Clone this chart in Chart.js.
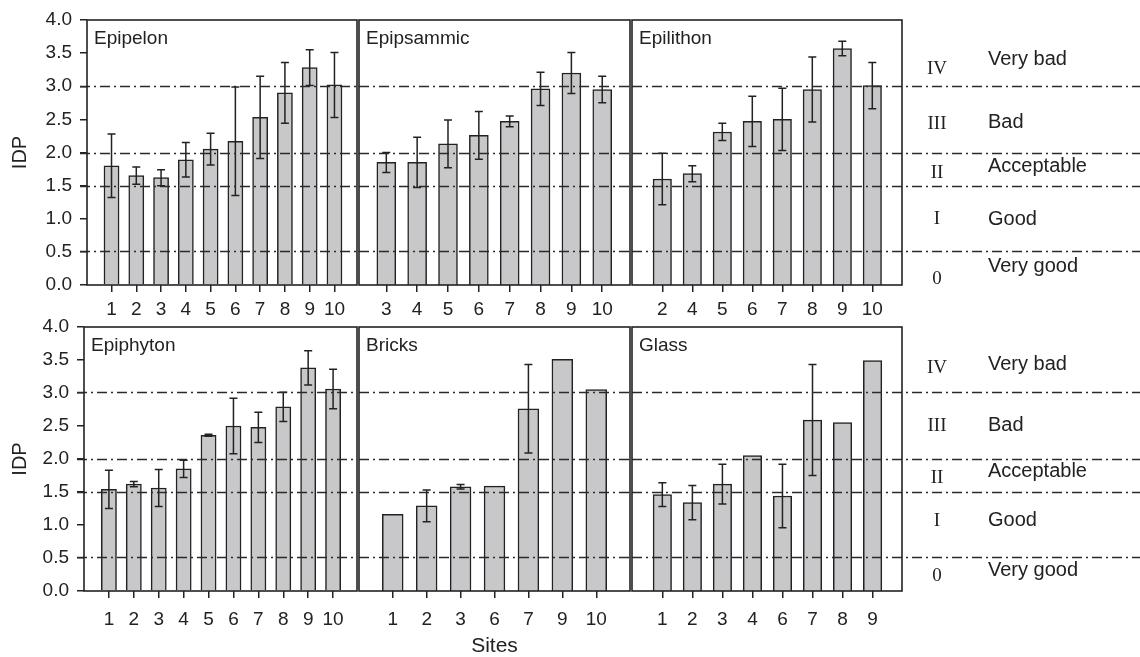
<!DOCTYPE html>
<html>
<head>
<meta charset="utf-8">
<script src="https://cdn.jsdelivr.net/npm/chart.js@4.4.1/dist/chart.umd.min.js"></script>
<style>
  html, body { margin: 0; padding: 0; background: #fff; overflow: hidden; }
  body { width: 1140px; height: 657px; position: relative; }
  canvas { position: absolute; }
</style>
</head>
<body>
<script>
// IDP per site and substrate, with +/- error
const epipelonSites = ['1', '2', '3', '4', '5', '6', '7', '8', '9', '10'];
const epipelonIdp = [1.80, 1.65, 1.62, 1.89, 2.05, 2.17, 2.53, 2.90, 3.28, 3.02];
const epipelonErr = [0.48, 0.13, 0.12, 0.26, 0.24, 0.82, 0.62, 0.46, 0.27, 0.49];

const epipsammicSites = ['3', '4', '5', '6', '7', '8', '9', '10'];
const epipsammicIdp = [1.85, 1.85, 2.13, 2.26, 2.47, 2.96, 3.20, 2.95];
const epipsammicErr = [0.15, 0.38, 0.36, 0.36, 0.08, 0.25, 0.31, 0.20];

const epilithonSites = ['2', '4', '5', '6', '7', '8', '9', '10'];
const epilithonIdp = [1.60, 1.68, 2.31, 2.47, 2.50, 2.95, 3.57, 3.01];
const epilithonErr = [0.39, 0.12, 0.13, 0.38, 0.47, 0.49, 0.11, 0.35];

const epiphytonSites = ['1', '2', '3', '4', '5', '6', '7', '8', '9', '10'];
const epiphytonIdp = [1.54, 1.62, 1.56, 1.85, 2.36, 2.50, 2.48, 2.79, 3.38, 3.06];
const epiphytonErr = [0.29, 0.04, 0.28, 0.13, 0.015, 0.42, 0.23, 0.22, 0.26, 0.30];

const bricksSites = ['1', '2', '3', '6', '7', '9', '10'];
const bricksIdp = [1.16, 1.29, 1.58, 1.59, 2.76, 3.51, 3.05];
const bricksErr = [0, 0.24, 0.035, 0, 0.67, 0, 0];

const glassSites = ['1', '2', '3', '4', '6', '7', '8', '9'];
const glassIdp = [1.46, 1.34, 1.62, 2.05, 1.44, 2.59, 2.55, 3.49];
const glassErr = [0.18, 0.26, 0.30, 0, 0.48, 0.84, 0, 0];

// quality class limits and labels
const classLimits = [0.52, 1.5, 2.0, 3.01];
const classRoman = ['IV', 'III', 'II', 'I', '0'];
const classNames = ['Very bad', 'Bad', 'Acceptable', 'Good', 'Very good'];

const INK = '#222';
const BAR_FILL = '#c8c8ca';
const SANS = '"Liberation Sans", Arial, sans-serif';
const SERIF = '"Liberation Serif", "Times New Roman", serif';

// label heights (in IDP units) for the class legend, per row
const legendTop = { roman: [3.28, 2.45, 1.70, 1.01, 0.10], names: [3.42, 2.47, 1.81, 1.01, 0.29] };
const legendBottom = { roman: [3.40, 2.51, 1.73, 1.07, 0.24], names: [3.44, 2.53, 1.82, 1.08, 0.32] };

const rowTop = { cy: 0, ch: 330, areaTop: 20, areaBottom: 285, tickPad: 6, legend: legendTop };
const rowBottom = { cy: 307, ch: 350, areaTop: 327, areaBottom: 591, tickPad: 10, legend: legendBottom };

const panelPlugin = {
  id: 'panel',
  afterDatasetsDraw(chart, args, p) {
    const ctx = chart.ctx;
    const a = chart.chartArea;
    const y = chart.scales.y;
    const meta = chart.getDatasetMeta(0);
    ctx.save();
    // error bars
    ctx.strokeStyle = INK;
    ctx.lineWidth = 1.5;
    meta.data.forEach((bar, i) => {
      const e = p.err[i];
      if (!e) return;
      const v = p.values[i];
      const y1 = y.getPixelForValue(v + e);
      const y2 = y.getPixelForValue(v - e);
      ctx.beginPath();
      ctx.moveTo(bar.x, y1); ctx.lineTo(bar.x, y2);
      ctx.moveTo(bar.x - 4, y1); ctx.lineTo(bar.x + 4, y1);
      ctx.moveTo(bar.x - 4, y2); ctx.lineTo(bar.x + 4, y2);
      ctx.stroke();
    });
    // class limit lines
    ctx.strokeStyle = '#2a2a2a';
    ctx.lineWidth = 1.4;
    ctx.setLineDash([10, 4, 2, 4]);
    const x0 = p.first ? a.left - 7 : a.left;
    const x1 = p.last ? chart.width : a.right;
    classLimits.forEach(v => {
      const py = Math.round(y.getPixelForValue(v)) + 0.5;
      ctx.beginPath();
      ctx.moveTo(x0, py); ctx.lineTo(x1, py);
      ctx.stroke();
    });
    ctx.setLineDash([]);
    // frame
    ctx.strokeStyle = INK;
    ctx.lineWidth = 1.6;
    ctx.strokeRect(a.left, a.top, a.right - a.left, a.bottom - a.top);
    // panel title
    ctx.fillStyle = INK;
    ctx.font = '19px ' + SANS;
    ctx.textAlign = 'left';
    ctx.textBaseline = 'alphabetic';
    ctx.fillText(p.title, a.left + 7, a.top + 23.5);
    // class legend at right
    if (p.last) {
      ctx.textBaseline = 'middle';
      ctx.font = '19px ' + SERIF;
      ctx.textAlign = 'center';
      classRoman.forEach((t, i) => ctx.fillText(t, a.right + 35, y.getPixelForValue(p.legend.roman[i]) + 1));
      ctx.font = '20px ' + SANS;
      ctx.textAlign = 'left';
      classNames.forEach((t, i) => ctx.fillText(t, a.right + 86, y.getPixelForValue(p.legend.names[i]) + 1));
    }
    ctx.restore();
  }
};

function makePanel(p) {
  const canvas = document.createElement('canvas');
  canvas.width = p.cw;
  canvas.height = p.row.ch;
  canvas.style.left = p.cx + 'px';
  canvas.style.top = p.row.cy + 'px';
  document.body.appendChild(canvas);
  const first = !!p.first;
  const padL = first ? 0 : p.areaLeft - p.cx;
  const padR = p.cx + p.cw - p.areaRight;
  const xH = p.row.cy + p.row.ch - p.row.areaBottom;
  const spacing = (p.areaRight - p.areaLeft) / (p.xMax - p.xMin);
  p.legend = p.row.legend;
  return new Chart(canvas, {
    type: 'bar',
    data: {
      datasets: [{
        data: p.values.map((v, i) => ({ x: i, y: v })),
        backgroundColor: BAR_FILL,
        borderColor: INK,
        borderWidth: 1.5,
        barThickness: spacing * 0.61
      }]
    },
    options: {
      responsive: false,
      animation: false,
      events: [],
      layout: { padding: { left: padL, right: padR, top: p.row.areaTop - p.row.cy, bottom: 0 } },
      plugins: {
        legend: { display: false },
        tooltip: { enabled: false },
        panel: p
      },
      scales: {
        x: {
          type: 'linear',
          offset: false,
          bounds: 'data',
          min: p.xMin,
          max: p.xMax,
          afterBuildTicks: s => { s.ticks = p.sites.map((_, i) => ({ value: i })); },
          afterFit: s => { s.height = xH; },
          ticks: {
            callback: v => p.sites[v],
            color: INK,
            font: { family: SANS, size: 19 },
            padding: p.row.tickPad,
            maxRotation: 0,
            autoSkip: false
          },
          grid: { offset: false, drawOnChartArea: false, drawTicks: true, tickLength: 7, color: INK, lineWidth: 1.5 },
          border: { display: false },
          title: {
            display: !!p.xTitle,
            text: p.xTitle || '',
            color: INK,
            font: { family: SANS, size: 21, lineHeight: 1 },
            padding: { top: 0, bottom: 0 }
          }
        },
        y: {
          display: first,
          min: 0,
          max: 4,
          afterFit: s => { s.width = p.areaLeft - p.cx; },
          ticks: {
            stepSize: 0.5,
            callback: v => v.toFixed(1),
            color: INK,
            font: { family: SANS, size: 19 },
            padding: 8
          },
          grid: { drawOnChartArea: false, drawTicks: true, tickLength: 7, color: INK, lineWidth: 1.5 },
          border: { display: false },
          title: {
            display: first,
            text: 'IDP',
            color: INK,
            font: { family: SANS, size: 20, lineHeight: 1.2 },
            padding: { top: 8, bottom: 0 }
          }
        }
      }
    },
    plugins: [panelPlugin]
  });
}

const panels = [
  { row: rowTop, title: 'Epipelon', sites: epipelonSites, values: epipelonIdp, err: epipelonErr,
    cx: 0, cw: 359, areaLeft: 87, areaRight: 357, xMin: -0.99, xMax: 9.91, first: true },
  { row: rowTop, title: 'Epipsammic', sites: epipsammicSites, values: epipsammicIdp, err: epipsammicErr,
    cx: 355, cw: 277, areaLeft: 357, areaRight: 630, xMin: -0.885, xMax: 7.9 },
  { row: rowTop, title: 'Epilithon', sites: epilithonSites, values: epilithonIdp, err: epilithonErr,
    cx: 628, cw: 512, areaLeft: 630, areaRight: 902, xMin: -1.01, xMax: 7.99, last: true },
  { row: rowBottom, title: 'Epiphyton', sites: epiphytonSites, values: epiphytonIdp, err: epiphytonErr,
    cx: 0, cw: 359, areaLeft: 84, areaRight: 357, xMin: -1.0, xMax: 9.96, first: true },
  { row: rowBottom, title: 'Bricks', sites: bricksSites, values: bricksIdp, err: bricksErr,
    cx: 355, cw: 277, areaLeft: 357, areaRight: 630, xMin: -0.995, xMax: 6.995, xTitle: 'Sites' },
  { row: rowBottom, title: 'Glass', sites: glassSites, values: glassIdp, err: glassErr,
    cx: 628, cw: 512, areaLeft: 630, areaRight: 902, xMin: -1.01, xMax: 7.98, last: true }
];

panels.forEach(makePanel);
</script>
</body>
</html>
